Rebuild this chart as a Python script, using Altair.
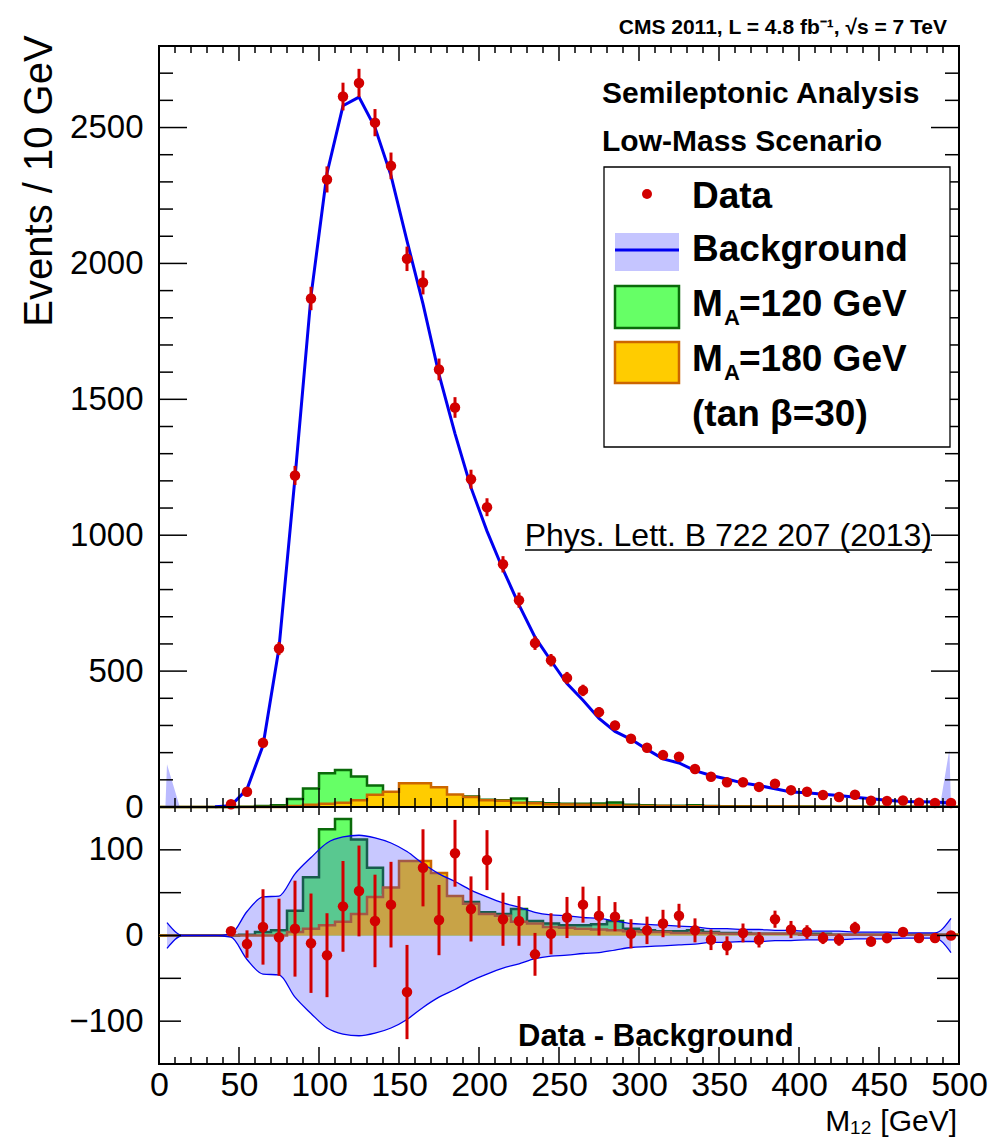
import altair as alt
import pandas as pd

FONT = "Liberation Sans"
RED = "#d20000"
BLUE = "#0000f0"
GREEN_FILL = "#66ff66"
GREEN_LINE = "#0a6a0a"
ORANGE_FILL = "#ffcc00"
ORANGE_LINE = "#cc6600"

W = 800
H_TOP = 761
H_BOT = 257

# ---------------- data ----------------
bin_edges = list(range(0, 510, 10))      # 51 edges, 10 GeV bins
bin_centers = list(range(5, 500, 10))    # 50 bin centres

data_x = list(range(45, 500, 10))
data_y = [10, 56, 236, 583, 1220, 1871, 2309, 2614, 2664, 2518,
          2359, 2017, 1930, 1610, 1470, 1206, 1103, 893, 761, 603,
          540, 475, 429, 349, 300, 251, 218, 191, 185, 140,
          111, 91, 91, 74, 86, 62, 56, 44, 37, 45,
          23, 22, 24, 16, 15, 15]
data_err = [3, 8, 15, 24, 35, 43, 48, 51, 52, 50,
            49, 45, 44, 40, 38, 35, 33, 30, 28, 25,
            23, 22, 21, 19, 17, 16, 15, 14, 14, 12,
            11, 10, 10, 9, 9, 8, 8, 7, 6, 7,
            5, 5, 5, 4, 4, 4]
resid_y = [5, -10, 10, -2, 8, -9, -23, 34, 52, 17,
           36, -66, 79, 18, 96, 31, 88, 19, 17, -22,
           2, 21, 36, 23, 22, 2, 6, 14, 23, 6,
           -5, -12, 3, -5, 19, 7, 4, -3, -5, 9,
           -7, -3, 4, -3, -3, 0]
resid_err = [4, 16, 44, 45, 56, 58, 49, 53, 53, 54,
             50, 55, 45, 41, 39, 38, 35, 31, 29, 25,
             24, 24, 21, 23, 17, 17, 16, 16, 14, 14,
             12, 11, 11, 9, 10, 10, 8, 7, 7, 7,
             6, 6, 5, 5, 5, 5]

bkg_x = list(range(35, 500, 10))
bkg_y = [1, 5, 66, 226, 585, 1212, 1880, 2332, 2580, 2612,
         2500, 2323, 2083, 1851, 1592, 1374, 1175, 1015, 874, 744,
         625, 538, 454, 393, 326, 278, 249, 212, 177, 162,
         134, 116, 103, 88, 79, 67, 55, 52, 47, 42,
         36, 30, 25, 20, 19, 18, 15]

band_half = [15, 0, 0, 0, 2, 28, 45, 46, 72, 91,
             108, 115, 117, 114, 108, 98, 84, 72, 63, 53,
             45, 38, 33, 27, 24, 23, 21, 20, 17, 14,
             13, 12, 11, 10, 8, 8, 7, 7, 6, 6,
             5, 5, 5, 4, 4, 4, 3, 3, 3, 20]

sig120 = [0, 0, 0, 0, 0, 1, 4, 6, 29, 68,
          124, 136, 112, 79, 50, 42, 38, 35, 40, 39,
          27, 25, 31, 17, 14, 12, 12, 13, 17, 8,
          6, 5, 5, 6, 4, 3, 3, 2, 2, 2,
          2, 2, 1, 1, 1, 1, 1, 1, 1, 1]
sig180 = [0, 0, 0, 0, 0, 0, 0, 0, 4, 8,
          12, 16, 25, 45, 56, 87, 87, 73, 46, 37,
          25, 23, 16, 14, 10, 9, 8, 7, 6, 5,
          4, 4, 3, 3, 3, 2, 2, 2, 2, 2,
          1, 1, 1, 1, 1, 1, 1, 1, 1, 1]

spike_x = [4, 5, 13, 488, 494, 495]
spike_y = [0, 157, 0, 0, 212, 0]
spike_id = ["lo", "lo", "lo", "hi", "hi", "hi"]

x_major = list(range(0, 501, 50))
x_minor = [v for v in range(10, 500, 10) if v % 50]
ytop_major = [0, 500, 1000, 1500, 2000, 2500]
ytop_minor = [v for v in range(100, 2800, 100) if v % 500]
ybot_ticks = [-100, -50, 0, 50, 100]

# ---------------- tables ----------------
pts = pd.DataFrame({"x": data_x, "y": data_y,
                    "lo": [a - b for a, b in zip(data_y, data_err)],
                    "hi": [a + b for a, b in zip(data_y, data_err)]})
res = pd.DataFrame({"x": data_x, "y": resid_y,
                    "lo": [a - b for a, b in zip(resid_y, resid_err)],
                    "hi": [a + b for a, b in zip(resid_y, resid_err)]})
bkg = pd.DataFrame({"x": bkg_x, "y": bkg_y})
band = pd.DataFrame({"x": bin_centers, "lo": [-v for v in band_half], "hi": band_half})
spikes = pd.DataFrame({"x": spike_x, "y": spike_y, "id": spike_id})


def step_df(vals):
    return pd.DataFrame({"x": bin_edges, "y": vals + [vals[-1]]})


xs = alt.Scale(domain=[0, 500], nice=False, zero=False)
yts = alt.Scale(domain=[0, 2800], nice=False)
ybs = alt.Scale(domain=[-150, 150], nice=False)

ax_none = alt.Axis(labels=False, ticks=False, domain=False, grid=False, title=None)
ax_top_y = alt.Axis(values=ytop_major, format="d", labelFontSize=33, labelFont=FONT, labelPadding=16,
                    ticks=False, tickSize=0, domain=False, grid=False, title=None,
                    labelFlush=False, labelOverlap=False, labelColor="black")
ax_bot_y = alt.Axis(values=[-100, 0, 100], format="d", labelFontSize=33, labelFont=FONT, labelPadding=16,
                    ticks=False, tickSize=0, domain=False, grid=False, title=None,
                    labelFlush=False, labelOverlap=False, labelColor="black")
ax_bot_x = alt.Axis(values=x_major, format="d", labelFontSize=34, labelFont=FONT, labelPadding=4,
                    ticks=False, tickSize=0, domain=False, grid=False, title=None,
                    labelFlush=False, labelOverlap=False, labelColor="black")


def XT(f):
    return alt.X(f, scale=xs, axis=ax_none)


def YT(f):
    return alt.Y(f, scale=yts, axis=ax_top_y)


def XB(f):
    return alt.X(f, scale=xs, axis=ax_bot_x)


def YB(f):
    return alt.Y(f, scale=ybs, axis=ax_bot_y)


def txt(s, x, y, size, bold=True, align="left", baseline="alphabetic", angle=0):
    return alt.Chart(pd.DataFrame({"t": [s]})).mark_text(
        align=align, baseline=baseline, font=FONT, fontSize=size,
        fontWeight="bold" if bold else "normal", color="black", angle=angle
    ).encode(x=alt.value(x), y=alt.value(y), text="t:N")


def box(x1, x2, y1, y2, fill, stroke=None, sw=0, opacity=1.0):
    kw = dict(fill=fill, fillOpacity=opacity)
    if stroke:
        kw.update(stroke=stroke, strokeWidth=sw)
    return alt.Chart(pd.DataFrame({"a": [0]})).mark_rect(**kw).encode(
        x=alt.value(x1), x2=alt.value(x2), y=alt.value(y1), y2=alt.value(y2))


def hline(x1, x2, y, color, sw):
    return alt.Chart(pd.DataFrame({"a": [0]})).mark_rule(color=color, strokeWidth=sw).encode(
        x=alt.value(x1), x2=alt.value(x2), y=alt.value(y))


def xticks(vals, X, y0, y1):
    return alt.Chart(pd.DataFrame({"v": vals})).mark_rule(color="black", strokeWidth=1.5).encode(
        x=X("v:Q"), y=alt.value(y0), y2=alt.value(y1))


def yticks(vals, Y, x0, x1):
    return alt.Chart(pd.DataFrame({"v": vals})).mark_rule(color="black", strokeWidth=1.5).encode(
        y=Y("v:Q"), x=alt.value(x0), x2=alt.value(x1))


# ---------------- top panel ----------------
g_area = alt.Chart(step_df(sig120)).mark_area(interpolate="step-after", color=GREEN_FILL).encode(
    x=XT("x:Q"), y=YT("y:Q"))
g_line = alt.Chart(step_df(sig120)).mark_line(interpolate="step-after", color=GREEN_LINE,
                                              strokeWidth=2.5).encode(x=XT("x:Q"), y=YT("y:Q"))
o_area = alt.Chart(step_df(sig180)).mark_area(interpolate="step-after", color=ORANGE_FILL).encode(
    x=XT("x:Q"), y=YT("y:Q"))
o_line = alt.Chart(step_df(sig180)).mark_line(interpolate="step-after", color=ORANGE_LINE,
                                              strokeWidth=2.5).encode(x=XT("x:Q"), y=YT("y:Q"))
sp = alt.Chart(spikes).mark_area(color="#3a3aff", opacity=0.35).encode(
    x=XT("x:Q"), y=YT("y:Q"), detail="id:N")
bl = alt.Chart(bkg).mark_line(color=BLUE, strokeWidth=3).encode(x=XT("x:Q"), y=YT("y:Q"))
eb = alt.Chart(pts).mark_rule(color=RED, strokeWidth=3).encode(x=XT("x:Q"), y=YT("lo:Q"), y2="hi:Q")
pt = alt.Chart(pts).mark_circle(color=RED, size=110, opacity=1).encode(x=XT("x:Q"), y=YT("y:Q"))

top_layers = [
    g_area, g_line, o_area, o_line, sp, bl, eb, pt,
    xticks(x_major, XT, H_TOP, H_TOP - 19), xticks(x_minor, XT, H_TOP, H_TOP - 9),
    xticks(x_major, XT, 0, 15), xticks(x_minor, XT, 0, 7),
    yticks(ytop_major, YT, 0, 28), yticks(ytop_minor, YT, 0, 14),
    yticks(ytop_major, YT, W, W - 28), yticks(ytop_minor, YT, W, W - 14),
    # texts
    txt("CMS 2011, L = 4.8 fb\u207b\u00b9, \u221as = 7 TeV", 788, -12, 21, align="right"),
    txt("Events / 10 GeV", -119, 135, 40, bold=False, align="center", baseline="middle", angle=270),
    txt("Semileptonic Analysis", 443, 57, 30),
    txt("Low-Mass Scenario", 443, 105, 30),
    txt("Phys. Lett. B 722 207 (2013)", 773, 500, 32, bold=False, align="right"),
    hline(366, 773, 504, "black", 1.5),
    # legend
    box(445, 791, 121, 401, "white", "black", 1.3),
    alt.Chart(pd.DataFrame({"a": [0]})).mark_circle(color=RED, size=100, opacity=1).encode(
        x=alt.value(488), y=alt.value(148)),
    txt("Data", 533, 162, 37),
    box(456, 520, 187, 225, "#4040ff", opacity=0.3),
    hline(456, 520, 204, BLUE, 3),
    txt("Background", 533, 215, 37),
    box(456, 520, 240, 282, GREEN_FILL, GREEN_LINE, 2.5),
    txt("M", 533, 270, 37), txt("A", 565, 279, 22), txt("=120 GeV", 580, 270, 37),
    box(456, 520, 296, 337, ORANGE_FILL, ORANGE_LINE, 2.5),
    txt("M", 533, 325, 37), txt("A", 565, 334, 22), txt("=180 GeV", 580, 325, 37),
    txt("(tan \u03b2=30)", 533, 380, 37),
]
top = alt.layer(*top_layers).properties(width=W, height=H_TOP)

# ---------------- bottom panel ----------------
gb_area = alt.Chart(step_df(sig120)).mark_area(interpolate="step-after", color=GREEN_FILL).encode(
    x=XB("x:Q"), y=YB("y:Q"))
gb_line = alt.Chart(step_df(sig120)).mark_line(interpolate="step-after", color=GREEN_LINE,
                                               strokeWidth=2.5).encode(x=XB("x:Q"), y=YB("y:Q"))
ob_area = alt.Chart(step_df(sig180)).mark_area(interpolate="step-after", color=ORANGE_FILL).encode(
    x=XB("x:Q"), y=YB("y:Q"))
ob_line = alt.Chart(step_df(sig180)).mark_line(interpolate="step-after", color=ORANGE_LINE,
                                               strokeWidth=2.5).encode(x=XB("x:Q"), y=YB("y:Q"))
bd = alt.Chart(band).mark_area(interpolate="monotone", color="#3a3aff", opacity=0.28).encode(
    x=XB("x:Q"), y=YB("lo:Q"), y2="hi:Q")
bd_hi = alt.Chart(band).mark_line(interpolate="monotone", color=BLUE, strokeWidth=1.3).encode(
    x=XB("x:Q"), y=YB("hi:Q"))
bd_lo = alt.Chart(band).mark_line(interpolate="monotone", color=BLUE, strokeWidth=1.3).encode(
    x=XB("x:Q"), y=YB("lo:Q"))
ebb = alt.Chart(res).mark_rule(color=RED, strokeWidth=3).encode(x=XB("x:Q"), y=YB("lo:Q"), y2="hi:Q")
ptb = alt.Chart(res).mark_circle(color=RED, size=110, opacity=1).encode(x=XB("x:Q"), y=YB("y:Q"))

bot_layers = [
    gb_area, gb_line, ob_area, ob_line, bd, bd_hi, bd_lo, ebb, ptb,
    xticks(x_major, XB, H_BOT, H_BOT - 17), xticks(x_minor, XB, H_BOT, H_BOT - 7),
    xticks(x_major, XB, 0, 8), xticks(x_minor, XB, 0, 5),
    yticks(ybot_ticks, YB, 0, 22), yticks(ybot_ticks, YB, W, W - 22),
    txt("Data - Background", 359, 239, 31),
    txt("M\u2081\u2082 [GeV]", 798, 324, 30, bold=False, align="right"),
]
bottom = alt.layer(*bot_layers).properties(width=W, height=H_BOT)

chart = alt.vconcat(top, bottom, spacing=0, bounds="flush").properties(
    padding={"left": 18, "top": 16, "right": 0, "bottom": 0},
    background="white",
).configure_view(stroke="black", strokeWidth=2)

chart.save("out.html", embed_options={"renderer": "svg", "actions": False})
